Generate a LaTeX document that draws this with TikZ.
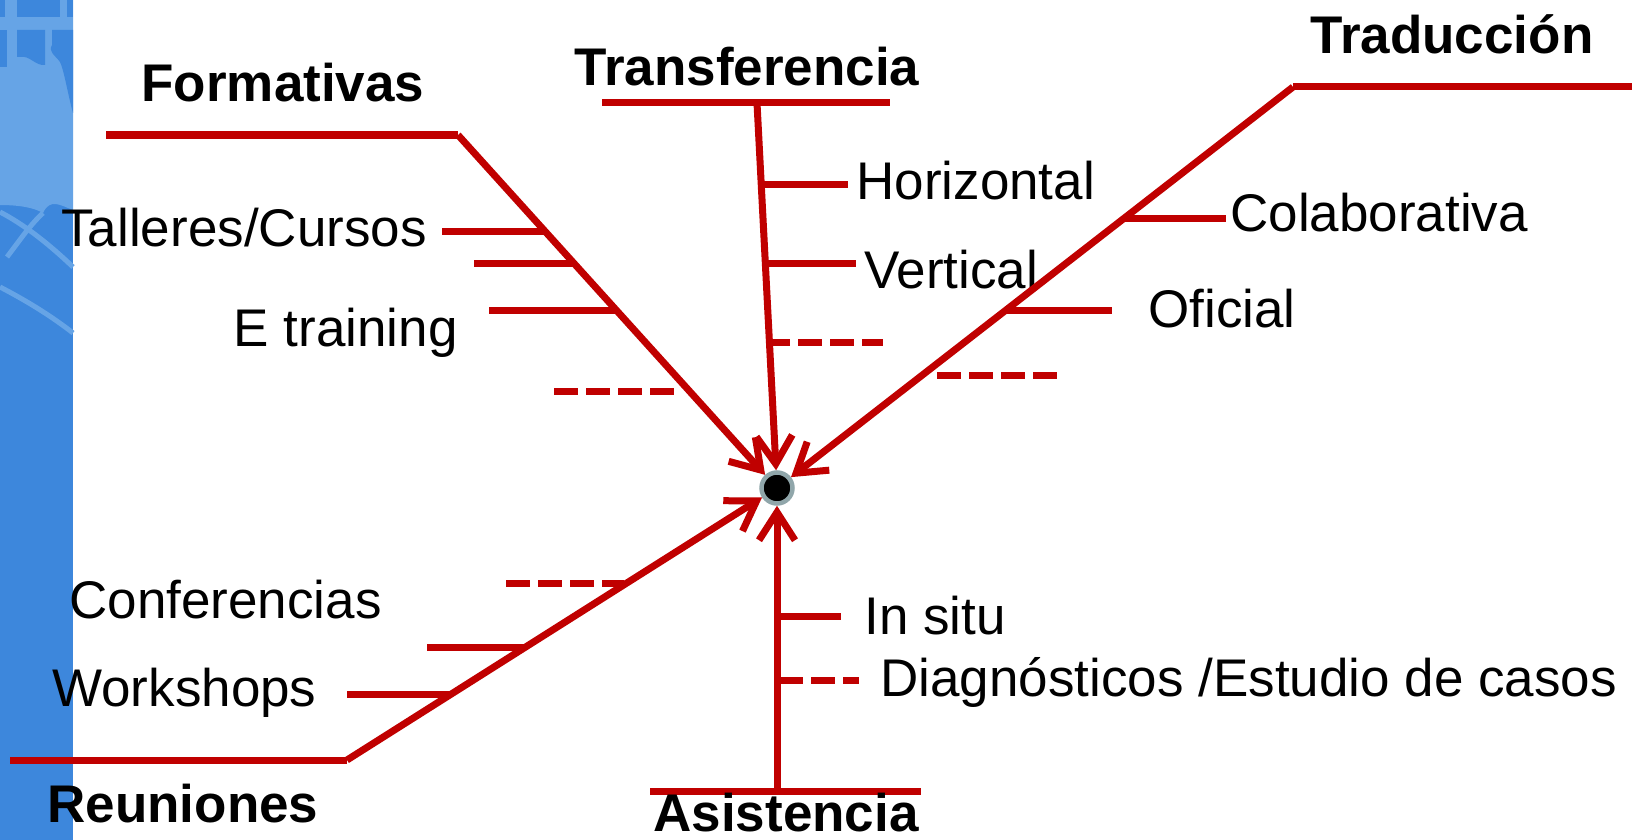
\documentclass[tikz,border=0pt]{standalone}
\usepackage{fontspec}
\setmainfont{Liberation Sans}
\usetikzlibrary{arrows.meta,calc}
\definecolor{bonered}{HTML}{C00000}
\definecolor{stripblue}{HTML}{3D87DC}
\definecolor{striplight}{HTML}{66A4E6}
\definecolor{ringgray}{HTML}{90A6AA}
\begin{document}
\begin{tikzpicture}[x=0.5pt,y=-0.5pt,
  bone/.style={draw=bonered,line width=3.5pt},
  bonearrow/.style={bone,-{Straight Barb[length=14pt,width=18pt]}},
  twig/.style={draw=bonered,line width=3.5pt},
  dashtwig/.style={twig,dash pattern=on 12pt off 4pt},
  lab/.style={inner sep=0pt,font=\fontsize{26.5}{30}\selectfont},
  head/.style={inner sep=0pt,font=\fontsize{26.5}{30}\selectfont\bfseries},
  dotnode/.style={circle,fill=black,draw=ringgray,line width=2.25pt,minimum size=15.5pt,inner sep=0pt}]
\useasboundingbox (0,0) rectangle (1632,840);
\clip (0,0) rectangle (1632,840);
\fill[white] (0,0) rectangle (1632,840);
% decorative strip
\fill[stripblue] (0,0) rectangle (73,840);
\fill[striplight] (0,0) -- (73,0) -- (73,210) .. controls (60,205) and (50,198) .. (43,213)
  .. controls (35,208) and (20,205) .. (0,205) -- cycle;
\begin{scope}[fill=stripblue]
  \fill (0,0) rectangle (5,17);
  \fill (17,0) rectangle (60,17);
  \fill (67,0) rectangle (73,17);
  \fill (0,30) rectangle (7,67);
  \fill (17,30) -- (45,30) -- (45,65) .. controls (35,66) and (30,55) .. (20,57) -- (17,57) -- cycle;
  \fill (52,30) -- (73,30) -- (73,113) .. controls (68,95) and (64,70) .. (60,62) .. controls (55,55) and (48,52) .. (52,45) -- cycle;
\end{scope}
\begin{scope}[draw=striplight,line width=2.5pt]
  \draw (0,212) .. controls (25,225) and (50,245) .. (73,267);
  \draw (7,257) .. controls (20,240) and (30,225) .. (43,213);
  \draw (0,287) .. controls (25,300) and (50,315) .. (73,333);
\end{scope}
% centre
\node[dotnode] (dot) at (777,488) {};
% Formativas
\coordinate (F0) at (106,135);
\coordinate (F1) at (458,135);
\draw[bone] (F0) -- (F1);
\draw[bonearrow] (F1) -- (dot);
\coordinate (fa1) at (545,231); \coordinate (fa0) at (442,231);
\coordinate (fb1) at (573,263); \coordinate (fb0) at (474,263);
\coordinate (fc1) at (615,310); \coordinate (fc0) at (489,310);
\coordinate (fd1) at (674,391); \coordinate (fd0) at (554,391);
\draw[twig] (fa1) -- (fa0);
\draw[twig] (fb1) -- (fb0);
\draw[twig] (fc1) -- (fc0);
\draw[dashtwig] (fd0) -- (fd1);
\node[head,anchor=base] (hF) at (283,102) {Formativas};
\node[lab,anchor=base east] (lTC) at (427,246) {Talleres/Cursos};
\node[lab,anchor=base east] (lET) at (458,346) {E training};
% Transferencia
\coordinate (T0) at (602,103);
\coordinate (T2) at (890,103);
\coordinate (T1) at (757,103);
\draw[bone] (T0) -- (T2);
\draw[bonearrow] (T1) -- (dot);
\coordinate (ta1) at (761,184); \coordinate (ta0) at (848,184);
\coordinate (tb1) at (765,263); \coordinate (tb0) at (856,263);
\coordinate (tc1) at (766,342); \coordinate (tc0) at (883,342);
\draw[twig] (ta1) -- (ta0);
\draw[twig] (tb1) -- (tb0);
\draw[dashtwig] (tc1) -- (tc0);
\node[head,anchor=base] (hT) at (747,86) {Transferencia};
\node[lab,anchor=base west] (lH) at (856,199) {Horizontal};
\node[lab,anchor=base west] (lV) at (864,288) {Vertical};
% Traduccion
\coordinate (D1) at (1293,87);
\coordinate (D2) at (1632,87);
\draw[bone] (D1) -- (D2);
\draw[bonearrow] (D1) -- (dot);
\coordinate (da1) at (1124,218); \coordinate (da0) at (1226,218);
\coordinate (db1) at (1006,310); \coordinate (db0) at (1112,310);
\coordinate (dc1) at (937,375); \coordinate (dc0) at (1060,375);
\draw[twig] (da1) -- (da0);
\draw[twig] (db1) -- (db0);
\draw[dashtwig] (dc1) -- (dc0);
\node[head,anchor=base] (hD) at (1452,54) {Traducción};
\node[lab,anchor=base west] (lC) at (1230,231) {Colaborativa};
\node[lab,anchor=base west] (lO) at (1148,327) {Oficial};
% Reuniones
\coordinate (R0) at (10,760);
\coordinate (R1) at (347,760);
\draw[bone] (R0) -- (R1);
\draw[bonearrow] (R1) -- (dot);
\coordinate (ra1) at (624,583); \coordinate (ra0) at (506,583);
\coordinate (rb1) at (524,647); \coordinate (rb0) at (427,647);
\coordinate (rc1) at (449,694); \coordinate (rc0) at (347,694);
\draw[dashtwig] (ra0) -- (ra1);
\draw[twig] (rb1) -- (rb0);
\draw[twig] (rc1) -- (rc0);
\node[head,anchor=base west] (hR) at (47,822) {Reuniones};
\node[lab,anchor=base west] (lCo) at (69,618) {Conferencias};
\node[lab,anchor=base west] (lW) at (52,706) {Workshops};
% Asistencia
\coordinate (A0) at (650,791);
\coordinate (A2) at (921,791);
\coordinate (A1) at (777,791);
\draw[bone] (A0) -- (A2);
\draw[bonearrow] (A1) -- (dot);
\coordinate (aa1) at (779,616); \coordinate (aa0) at (841,616);
\coordinate (ab1) at (779,680); \coordinate (ab0) at (859,680);
\draw[twig] (aa1) -- (aa0);
\draw[dashtwig] (ab1) -- (ab0);
\node[head,anchor=base] (hA) at (786,831) {Asistencia};
\node[lab,anchor=base west] (lI) at (864,634) {In situ};
\node[lab,anchor=base west] (lDi) at (880,696) {Diagnósticos /Estudio de casos};
\end{tikzpicture}
\end{document}
